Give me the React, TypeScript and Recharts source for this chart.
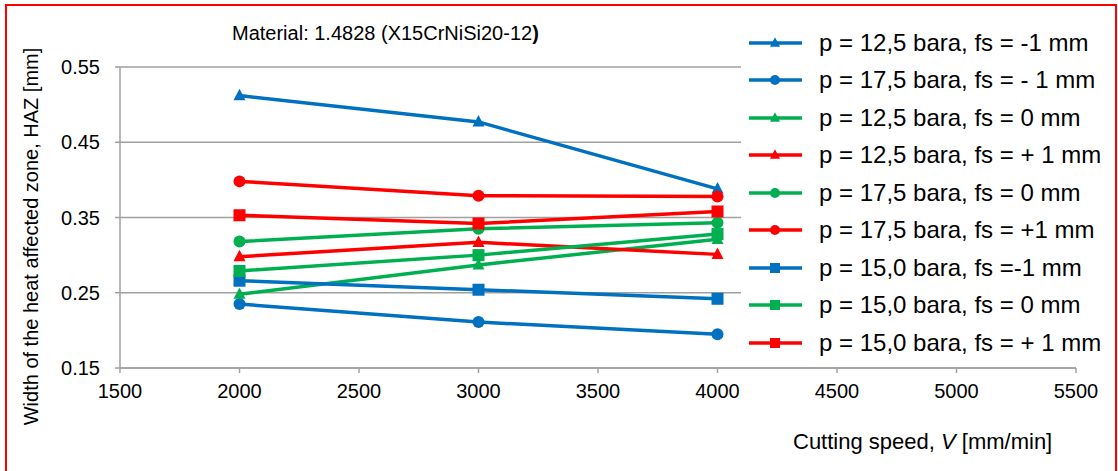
import { LineChart, Line, XAxis, YAxis, CartesianGrid, Legend } from 'recharts'

const FONT = '"Liberation Sans", Arial, Helvetica, sans-serif'
const BLUE = '#0070C0'
const GREEN = '#00B050'
const RED = '#FF0000'
const GRID = '#A0A0A0'

// cutting speed [mm/min]
const speeds = [2000, 3000, 4000]
const xTicks = [1500, 2000, 2500, 3000, 3500, 4000, 4500, 5000, 5500]
const yTicks = [0.15, 0.25, 0.35, 0.45, 0.55]

// HAZ width [mm] per series
const p125m1 = [0.512, 0.477, 0.388]
const p175m1 = [0.235, 0.211, 0.195]
const p125z = [0.248, 0.287, 0.321]
const p125p1 = [0.298, 0.317, 0.301]
const p175z = [0.318, 0.335, 0.343]
const p175p1 = [0.398, 0.379, 0.378]
const p150m1 = [0.266, 0.254, 0.242]
const p150z = [0.279, 0.3, 0.328]
const p150p1 = [0.353, 0.342, 0.358]

type Shape = 'triangle' | 'circle' | 'square'

interface Series {
  key: string
  name: string
  values: number[]
  color: string
  shape: Shape
}

const series: Series[] = [
  { key: 's1', name: 'p = 12,5 bara, fs = -1 mm', values: p125m1, color: BLUE, shape: 'triangle' },
  { key: 's2', name: 'p = 17,5 bara, fs = - 1 mm', values: p175m1, color: BLUE, shape: 'circle' },
  { key: 's3', name: 'p = 12,5 bara, fs = 0 mm', values: p125z, color: GREEN, shape: 'triangle' },
  { key: 's4', name: 'p = 12,5 bara, fs = + 1 mm', values: p125p1, color: RED, shape: 'triangle' },
  { key: 's5', name: 'p = 17,5 bara, fs = 0 mm', values: p175z, color: GREEN, shape: 'circle' },
  { key: 's6', name: 'p = 17,5 bara, fs = +1 mm', values: p175p1, color: RED, shape: 'circle' },
  { key: 's7', name: 'p = 15,0 bara, fs =-1 mm', values: p150m1, color: BLUE, shape: 'square' },
  { key: 's8', name: 'p = 15,0 bara, fs = 0 mm', values: p150z, color: GREEN, shape: 'square' },
  { key: 's9', name: 'p = 15,0 bara, fs = + 1 mm', values: p150p1, color: RED, shape: 'square' },
]

const data = speeds.map((v, i) => {
  const row: Record<string, number> = { v }
  series.forEach((s) => {
    row[s.key] = s.values[i]
  })
  return row
})

function Marker({ cx, cy, shape, color, size }: { cx: number; cy: number; shape: Shape; color: string; size: number }) {
  if (cx == null || cy == null) return null
  if (shape === 'circle') return <circle cx={cx} cy={cy} r={size / 2} fill={color} />
  if (shape === 'square')
    return <rect x={cx - size / 2} y={cy - size / 2} width={size} height={size} fill={color} />
  const h = size * 0.95
  return (
    <polygon
      points={`${cx},${cy - h * 0.6} ${cx + size / 2},${cy + h * 0.4} ${cx - size / 2},${cy + h * 0.4}`}
      fill={color}
    />
  )
}

const LegendBox = () => (
  <div
    style={{
      background: '#fff',
      width: 372,
      height: 343,
      paddingTop: 2,
      boxSizing: 'border-box',
      fontFamily: FONT,
      fontSize: 24,
      color: '#000',
    }}
  >
    {series.map((s) => (
      <div key={s.key} style={{ display: 'flex', alignItems: 'center', height: 37.5 }}>
        <svg width={62} height={20} style={{ flex: 'none' }}>
          <line x1={8} x2={61} y1={10} y2={10} stroke={s.color} strokeWidth={3.5} />
          <Marker cx={34} cy={10} shape={s.shape} color={s.color} size={10} />
        </svg>
        <span style={{ marginLeft: 16, whiteSpace: 'nowrap' }}>{s.name}</span>
      </div>
    ))}
  </div>
)

export default function App() {
  return (
    <div
      style={{
        position: 'absolute',
        left: 0,
        top: 0,
        width: 1118,
        height: 471,
        overflow: 'hidden',
        background: '#fff',
        fontFamily: FONT,
      }}
    >
      <LineChart
        width={1118}
        height={471}
        data={data}
        margin={{ top: 67, right: 42, bottom: 63, left: 0 }}
        style={{ fontFamily: FONT }}
      >
        <CartesianGrid vertical={false} stroke={GRID} strokeWidth={1.5} />
        <XAxis
          dataKey="v"
          type="number"
          domain={[1500, 5500]}
          ticks={xTicks}
          interval={0}
          height={40}
          tick={{ fill: '#000', fontSize: 20, fontFamily: FONT }}
          tickSize={5}
          tickMargin={11}
          axisLine={{ stroke: GRID, strokeWidth: 1.5 }}
          tickLine={{ stroke: GRID, strokeWidth: 1.5 }}
        />
        <YAxis
          type="number"
          domain={[0.15, 0.55]}
          ticks={yTicks}
          interval={0}
          width={120}
          tickFormatter={(v: number) => v.toFixed(2)}
          tick={{ fill: '#000', fontSize: 20, fontFamily: FONT }}
          tickSize={5}
          tickMargin={15}
          axisLine={{ stroke: GRID, strokeWidth: 1.5 }}
          tickLine={{ stroke: GRID, strokeWidth: 1.5 }}
        />
        {series.map((s) => (
          <Line
            key={s.key}
            dataKey={s.key}
            name={s.name}
            stroke={s.color}
            strokeWidth={3.5}
            isAnimationActive={false}
            dot={(p: any) => (
              <Marker key={`${s.key}-${p.index}`} cx={p.cx} cy={p.cy} shape={s.shape} color={s.color} size={12} />
            )}
            activeDot={false}
          />
        ))}
        <Legend
          layout="vertical"
          align="center"
          verticalAlign="middle"
          content={() => <LegendBox />}
          wrapperStyle={{ left: 741, top: 22, width: 372, height: 343 }}
        />
        <text x={232} y={40} fontSize={20} fill="#000" fontFamily={FONT}>
          Material: 1.4828 (X15CrNiSi20-12<tspan fontWeight="bold">)</tspan>
        </text>
        <text
          x={37.5}
          y={236.5}
          fontSize={20}
          fill="#000"
          fontFamily={FONT}
          textAnchor="middle"
          transform="rotate(-90 37.5 236.5)"
        >
          Width of the heat affected zone, HAZ [mm]
        </text>
        <text x={793} y={449} fontSize={22} fill="#000" fontFamily={FONT}>
          Cutting speed, <tspan fontStyle="italic">V</tspan> [mm/min]
        </text>
      </LineChart>
      <div
        style={{
          position: 'absolute',
          left: 5,
          top: 4,
          width: 1112,
          height: 520,
          border: '2px solid #FF0000',
          boxSizing: 'border-box',
          pointerEvents: 'none',
        }}
      />
    </div>
  )
}
